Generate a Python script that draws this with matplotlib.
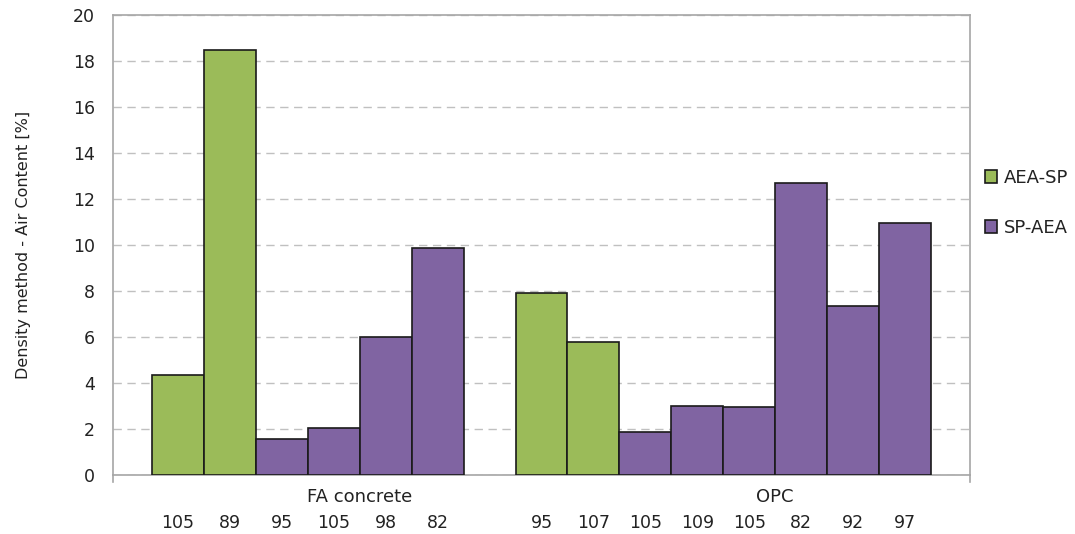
import matplotlib
matplotlib.use("Agg")
import matplotlib.pyplot as plt
from matplotlib.lines import Line2D

# Air content by density method, grouped by binder type
groups = ["FA concrete", "OPC"]
series_names = ["AEA-SP", "SP-AEA"]

fa_labels = ["105", "89", "95", "105", "98", "82"]
fa_values = [4.35, 18.5, 1.55, 2.05, 6.0, 9.85]
fa_series = ["AEA-SP", "AEA-SP", "SP-AEA", "SP-AEA", "SP-AEA", "SP-AEA"]

opc_labels = ["95", "107", "105", "109", "105", "82", "92", "97"]
opc_values = [7.9, 5.8, 1.85, 3.0, 2.95, 12.7, 7.35, 10.95]
opc_series = ["AEA-SP", "AEA-SP", "SP-AEA", "SP-AEA", "SP-AEA", "SP-AEA", "SP-AEA", "SP-AEA"]

colors = {"AEA-SP": "#9BBB59", "SP-AEA": "#8064A2"}
text_color = "#222222"

# slot positions: one empty slot between the two groups
fa_x = list(range(len(fa_values)))
opc_x = [len(fa_values) + 1 + i for i in range(len(opc_values))]

fig = plt.figure(figsize=(10.75, 5.34), dpi=100)
ax = fig.add_axes([0.1051, 0.1105, 0.7972, 0.8614])

all_x = fa_x + opc_x
all_v = fa_values + opc_values
all_s = fa_series + opc_series
handles = {}
for x, v, s in zip(all_x, all_v, all_s):
    b = ax.bar(x, v, width=1.0, color=colors[s], edgecolor="#1a1a1a",
               linewidth=1.2, zorder=3, label=s)
    handles.setdefault(s, b)

ax.set_xlim(-1.25, all_x[-1] + 0.75 + 0.5)
ax.set_ylim(0, 20)
ax.set_yticks(range(0, 21, 2))
ax.yaxis.grid(True, color="#c0c0c0", linestyle=(0, (6, 4)), linewidth=1.0, zorder=0)

ax.set_xticks(all_x, fa_labels + opc_labels)
ax.tick_params(axis="x", length=0, pad=28, labelsize=12.5, colors=text_color)
ax.tick_params(axis="y", length=0, pad=13, labelsize=12.5, colors=text_color)

for sp in ax.spines.values():
    sp.set_color("#a6a6a6")
    sp.set_linewidth(1.2)

# outer ticks at both ends of the category axis
for xf in (0.0, 1.0):
    ax.add_line(Line2D([xf, xf], [0, -0.016], transform=ax.transAxes,
                       color="#a6a6a6", linewidth=1.2, clip_on=False))

# group labels on the second category level
group_centers = [sum(fa_x) / len(fa_x) + 1, sum(opc_x) / len(opc_x) + 1]
for name, cx in zip(groups, group_centers):
    ax.text(cx, -0.048, name, transform=ax.get_xaxis_transform(),
            ha="center", va="center", fontsize=13, color=text_color)

ax.set_ylabel("Density method - Air Content [%]", fontsize=11.5, color=text_color)
ax.yaxis.set_label_coords(-0.096, 0.5)

leg = fig.legend([handles[s] for s in series_names], series_names,
                 loc="center left", bbox_to_anchor=(0.901, 0.620), frameon=False,
                 fontsize=13, handlelength=0.7, handleheight=0.7,
                 handletextpad=0.35, labelspacing=1.75)
for t in leg.get_texts():
    t.set_color(text_color)

fig.savefig("out.png", dpi=100)
